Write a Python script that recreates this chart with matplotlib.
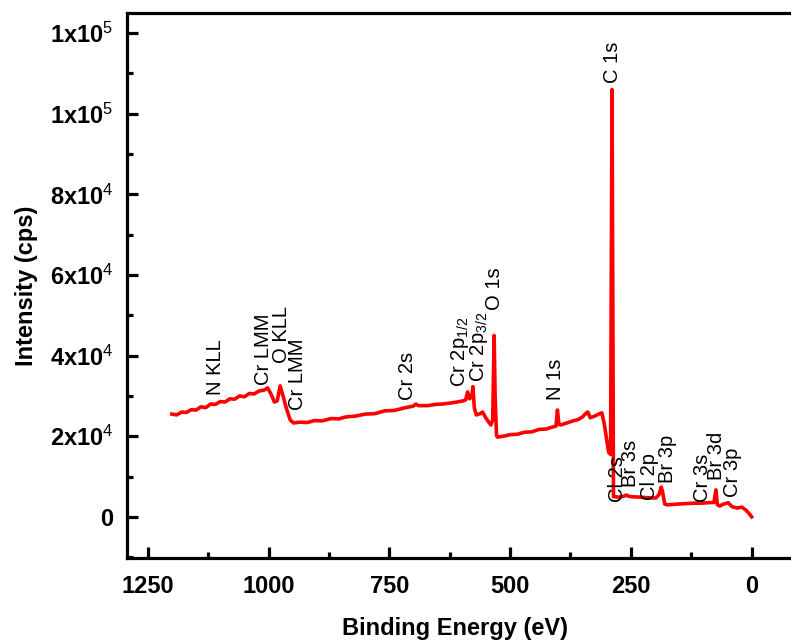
import matplotlib
matplotlib.use("Agg")
import matplotlib.pyplot as plt
from matplotlib.ticker import MultipleLocator, FixedLocator, FixedFormatter

# spectrum: binding energy (eV) and intensity (cps)
energy = [1200, 1190, 1180, 1170, 1160, 1150, 1140, 1130, 1120, 1110, 1100, 1090,
          1080, 1070, 1060, 1050, 1040, 1030, 1020, 1008, 1002,
          995, 988, 982, 976, 970, 962, 955, 948, 935, 920, 905, 890, 870, 855, 840,
          820, 800, 780, 760, 740, 720, 700, 695, 690, 670, 655, 640, 620, 600, 592,
          588, 584, 579, 577, 574, 570, 562, 557, 550, 540, 536, 533, 531, 528, 526,
          510, 500, 485, 470, 455, 440, 425, 412, 405, 402, 399, 395, 380, 370, 360,
          350, 342, 339, 334, 325, 315, 310, 305, 300, 296, 292, 289, 287.5, 286, 284,
          275, 265, 260, 256, 250, 230, 210, 198, 192, 187, 184, 180, 175, 160, 150,
          135, 120, 105, 90, 78, 74, 71, 66, 58, 48, 44, 40, 30, 20, 12, 5, 0]
intensity = [25500, 25300, 26000, 25900, 26600, 26500, 27300, 27100, 28000, 27900, 28600, 28500,
             29300, 29200, 30000, 29800, 30600, 30500, 31200, 31500, 32000,
             30500, 28500, 28800, 32500, 30000, 26500, 24000, 23300, 23500, 23400, 23900, 23800, 24400, 24300, 24800,
             25000, 25500, 25600, 26300, 26400, 27000, 27500, 28000, 27600, 27600, 27900, 28000, 28300, 28700, 29000,
             31000, 29300, 30000, 32300, 27000, 25300, 25600, 26000, 24500, 22800, 24000, 45000, 30000, 20100, 19800,
             20100, 20400, 20500, 21000, 21100, 21700, 21800, 22300, 22500, 26500, 23000, 22800, 23400, 23800, 24100,
             24800, 25800, 26000, 24600, 25000, 25600, 25800, 23000, 19100, 16000, 15500, 106000, 60000, 5000, 5000,
             4900, 5100, 5400, 5200, 5000, 4900, 4700, 4700, 5500, 7400, 6000, 3200, 3000, 3100, 3200,
             3300, 3400, 3400, 3500, 3600, 6700, 3000, 2700, 3200, 3500, 2900, 2500, 2200, 2400, 1700, 800, 0]

peak_labels = ['N KLL', 'Cr LMM', 'O KLL', 'Cr LMM', 'Cr 2s', 'Cr 2p$_{1/2}$', 'Cr 2p$_{3/2}$',
               'O 1s', 'N 1s', 'C 1s', 'Cl 2s', 'Br 3s', 'Cl 2p', 'Br 3p', 'Cr 3s', 'Br 3d', 'Cr 3p']
peak_x = [1109, 1010, 973, 940, 712, 604, 564, 532, 406, 288, 277, 250, 211, 174, 101, 72, 39]
peak_y = [30250, 32700, 38200, 26500, 29000, 32200, 33500, 51300, 29000, 107700,
          3700, 7400, 4200, 8400, 3700, 9200, 5000]

xticks = [1250, 1000, 750, 500, 250, 0]
yticks = [0, 2e4, 4e4, 6e4, 8e4, 1e5, 1.2e5]
ytick_labels = ['0', '2x10$^4$', '4x10$^4$', '6x10$^4$', '8x10$^4$', '1x10$^5$', '1x10$^5$']

plt.rcParams['font.family'] = ['Liberation Sans', 'DejaVu Sans']
plt.rcParams['mathtext.fontset'] = 'custom'
plt.rcParams['mathtext.rm'] = 'Liberation Sans'
plt.rcParams['mathtext.it'] = 'Liberation Sans:italic'
plt.rcParams['mathtext.bf'] = 'Liberation Sans:bold'

fig = plt.figure(figsize=(7.91, 6.44), dpi=100)
# axes run past the right edge, as in the original
ax = fig.add_axes([127 / 791, 86 / 644, 700 / 791, 545 / 644])

ax.plot(energy, intensity, color='#ff0000', lw=2.6)

for lab, x, y in zip(peak_labels, peak_x, peak_y):
    ax.text(x, y, lab, rotation=90, ha='center', va='bottom', fontsize=14.5)

ax.set_xlim(1293, -156)
ax.set_ylim(-10200, 125000)

ax.xaxis.set_major_locator(FixedLocator(xticks))
ax.xaxis.set_minor_locator(MultipleLocator(125))
ax.yaxis.set_major_locator(FixedLocator(yticks))
ax.yaxis.set_major_formatter(FixedFormatter(ytick_labels))
ax.yaxis.set_minor_locator(MultipleLocator(1e4))

for s in ax.spines.values():
    s.set_linewidth(2.3)

ax.tick_params(which='major', direction='in', length=8, width=2.3, labelsize=17)
ax.tick_params(which='minor', direction='in', length=4.5, width=2.3)
ax.tick_params(axis='x', pad=12)
ax.tick_params(axis='y', pad=10)
for t in ax.get_xticklabels() + ax.get_yticklabels():
    t.set_fontweight('bold')

ax.set_xlabel('Binding Energy (eV)', fontsize=17, fontweight='bold')
ax.xaxis.set_label_coords((455 - 127) / 700, -0.108)
ax.set_ylabel('Intensity (cps)', fontsize=17, fontweight='bold', labelpad=8)

fig.savefig('out.png', dpi=100)
